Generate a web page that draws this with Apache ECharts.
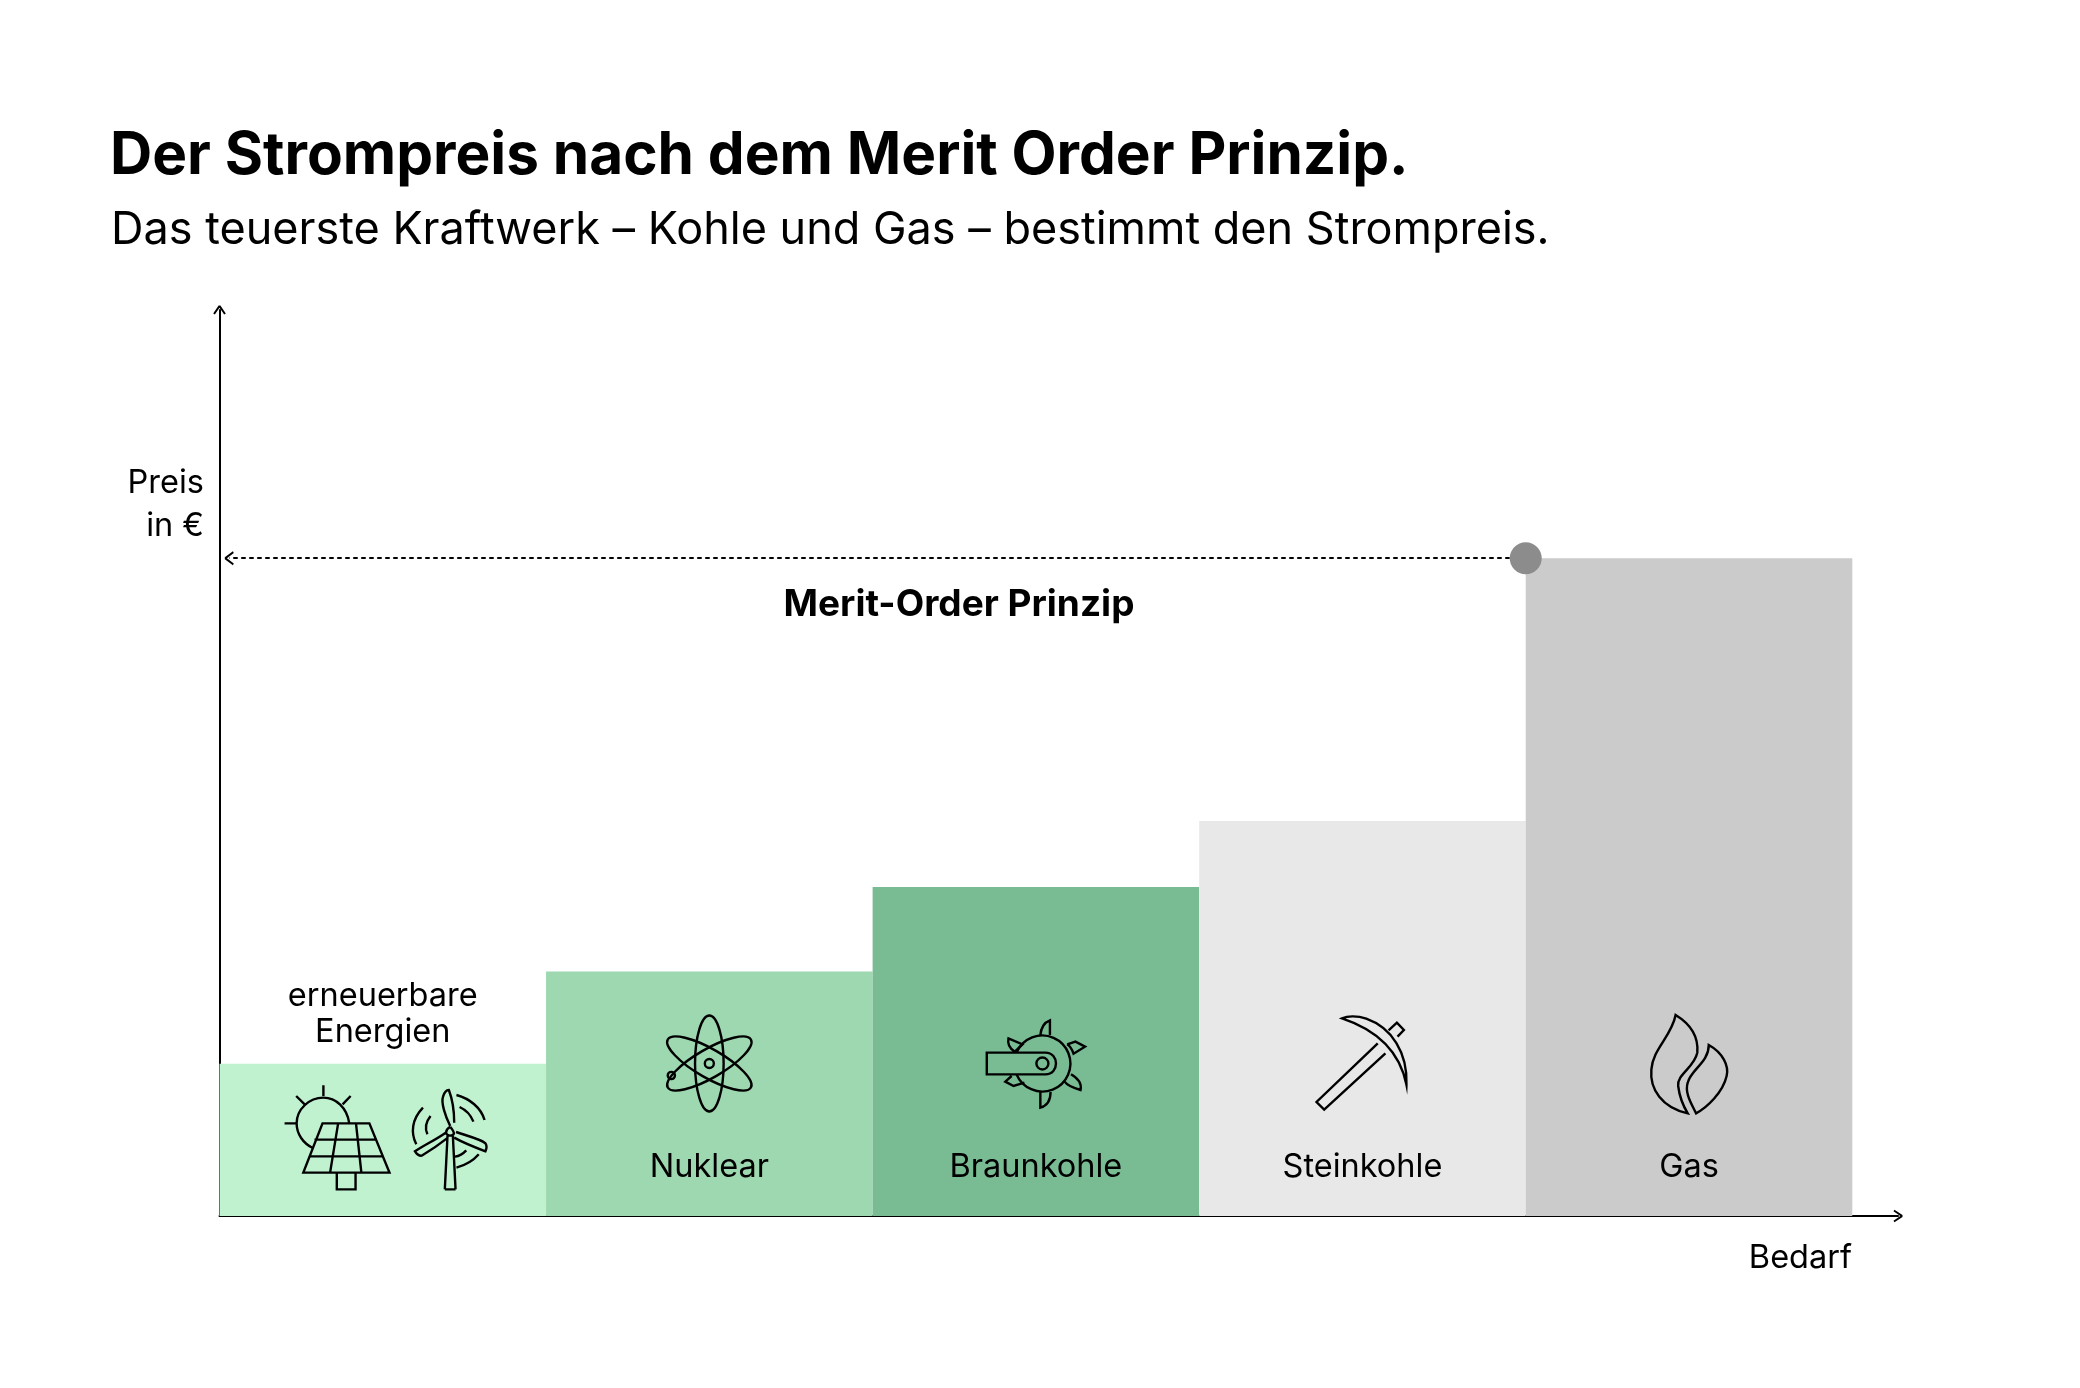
<!DOCTYPE html>
<html><head><meta charset="utf-8">
<style>html,body{margin:0;padding:0;background:#fff}#c{width:2080px;height:1388px}</style>
<script src="https://cdn.jsdelivr.net/npm/echarts@6/dist/echarts.min.js"></script>
</head><body><div id="c"></div>
<script>
const titleText = 'Der Strompreis nach dem Merit Order Prinzip.';
const subtitleText = 'Das teuerste Kraftwerk – Kohle und Gas – bestimmt den Strompreis.';
const categories = ['erneuerbare\nEnergien', 'Nuklear', 'Braunkohle', 'Steinkohle', 'Gas'];
const demandWidths = [1, 1, 1, 1, 1];
const prices = [16.8, 27, 36.3, 43.6, 72.6];
const barColors = ['#c1f2d0', '#9dd8b0', '#79bc94', '#e8e8e8', '#cbcbcb'];
const FONT = 'Inter';
const INK = '#000000';

// icon outlines, traced in zoomed-reference units
const rel = (d, sx, ox) => d.replace(/(-?[\d.]+)[ ,](-?[\d.]+)/g, (m, a, b) =>
  (((+a) - ox) / sx).toFixed(2) + ' ' + (((+b) - 770) / 3).toFixed(2));
const iconSolar = rel(
  'M335 492 C330 445 305 415 277 415 C245 415 217 450 217 492 C217 525 232 552 253 566 ' +
  'M277 378 L277 410 M190 492 L218 492 M216 410 L235 435 M338 410 L320 435 ' +
  'M275 492 L380 492 L425 640 L232 640 Z M257 541 L395 541 M245 591 L410 591 M310 492 L292 640 M350 492 L362 640 ' +
  'M307 640 L307 690 L349 690 L349 640', 2.24, 410);
const iconWind = rel(
  'M549 690 L555 530 M573 690 L567 530 M549 690 L573 690 ' +
  'M561 502 C572 520 572 528 561 529 C549 528 549 512 561 502 ' +
  'M561 500 C550 470 540 430 545 412 C548 398 553 392 558 392 C566 420 570 460 570 490 ' +
  'M574 518 C600 530 630 540 640 552 C644 560 642 570 640 576 C620 566 590 550 570 535 ' +
  'M551 520 C530 540 500 560 482 576 C485 584 492 590 497 589 C515 575 540 552 556 535 ' +
  'M575 407 C605 418 630 445 638 482 M582 443 C597 452 608 470 613 487 ' +
  'M500 445 C475 480 472 520 485 555 M517 470 C505 490 505 510 510 525 ' +
  'M625 585 C612 605 595 618 575 625 M597 573 C590 583 582 590 572 592', 2.24, 410);
const iconArm = rel(
  'M228 280 L136 280 L136 345 L228 345 C250 345 250 280 228 280 Z ' +
  'M220 228 C221 205 225 190 235 183 L235 228 M220 398 L220 445 C233 438 236 420 236 398 ' +
  'M170 237 C168 255 172 268 180 277 L192 255 Z M262 255 L275 247 L290 262 L272 283 C270 272 268 262 262 255 ' +
  'M268 345 C280 358 285 375 283 392 C270 385 262 378 258 367 M175 350 L165 367 L178 380 L195 370', 1.568, 213);
const iconPick = rel(
  'M748 252 L652 428 L664 451 L760 282 ' +
  'M692 177 C700 170 715 168 730 178 C770 205 795 280 793 376 C785 300 760 220 692 177 Z ' +
  'M765 213 L778 190 L789 212 L779 232', 1.568, 724);
const iconFlame = rel(
  'M1216 167 C1240 195 1252 235 1250 280 C1245 325 1218 345 1220 380 C1222 410 1228 440 1235 462 ' +
  'C1195 445 1175 390 1178 330 C1180 270 1210 230 1216 167 Z ' +
  'M1268 257 C1290 280 1300 320 1296 350 C1290 400 1265 445 1248 462 C1240 430 1230 400 1235 370 ' +
  'C1240 330 1268 310 1268 257 Z', 1.568, 1237);

const ICON_LINE = { fill: 'none', stroke: '#000', lineWidth: 2.4 };
const pathEl = (cx, base, d) => ({ type: 'path', x: cx, y: base, shape: { pathData: d }, style: ICON_LINE });
const ring = (x, y, r) => ({ type: 'circle', shape: { cx: x, cy: y, r }, style: ICON_LINE });
const iconFor = [
  (cx, b) => [pathEl(cx, b, iconSolar), pathEl(cx, b, iconWind)],
  (cx, b) => {
    const y = b - 152.5;
    return [0, Math.PI / 3, -Math.PI / 3].map(rot => ({
      type: 'ellipse', x: cx, y, rotation: rot, shape: { cx: 0, cy: 0, rx: 14.3, ry: 48 }, style: ICON_LINE
    })).concat([ring(cx, y, 4.5), ring(cx - 38, y + 12, 3.6)]);
  },
  (cx, b) => {
    const y = b - 152.5, x = cx + 6.5;
    return [
      { type: 'arc', shape: { cx: x, cy: y, r: 28, startAngle: Math.PI + 0.41, endAngle: Math.PI - 0.41, clockwise: true }, style: ICON_LINE },
      ring(x, y, 6), pathEl(cx, b, iconArm)
    ];
  },
  (cx, b) => [pathEl(cx, b, iconPick)],
  (cx, b) => [pathEl(cx, b, iconFlame)]
];

let start = 0;
const rows = categories.map((c, i) => {
  const r = [start, start + demandWidths[i], prices[i], i];
  start += demandWidths[i];
  return r;
});
const gasStart = rows[4][0], gasPrice = prices[4];
const xMax = 5.14;

const chevron = 'path://M0 9 L6 0 L8 0 L14 9 L12.2 10 L7 2.4 L1.8 10 Z';

const chart = echarts.init(document.getElementById('c'), null, { renderer: 'canvas' });
chart.setOption({
  animation: false,
  backgroundColor: '#ffffff',
  title: [
    { text: titleText, left: 105, top: 122, textStyle: { fontFamily: FONT, fontWeight: 700, fontSize: 58.5, color: '#000' } },
    { text: subtitleText, left: 106, top: 203, textStyle: { fontFamily: FONT, fontWeight: 400, fontSize: 45, color: '#000' } }
  ],
  grid: { left: 219.5, top: 310, right: 2080 - 1898, bottom: 172 },
  xAxis: {
    type: 'value', min: 0, max: xMax,
    axisLine: { show: true, onZero: false, symbol: ['none', chevron], symbolSize: [14, 9], lineStyle: { color: INK, width: 2 } },
    axisTick: { show: false }, axisLabel: { show: false }, splitLine: { show: false }
  },
  yAxis: {
    type: 'value', min: 0, max: 100,
    axisLine: { show: true, onZero: false, symbol: ['none', chevron], symbolSize: [14, 9], lineStyle: { color: INK, width: 2 } },
    axisTick: { show: false }, axisLabel: { show: false }, splitLine: { show: false }
  },
  series: [
    {
      type: 'custom', silent: true, clip: false, z: 1,
      encode: { x: [0, 1], y: 2 },
      data: rows,
      renderItem(params, api) {
        const i = api.value(3);
        const tl = api.coord([api.value(0), api.value(2)]);
        const br = api.coord([api.value(1), 0]);
        const cx = (tl[0] + br[0]) / 2;
        const first = i === 0;
        return {
          type: 'group',
          children: [
            { type: 'rect', shape: { x: tl[0], y: tl[1], width: br[0] - tl[0], height: br[1] - tl[1] }, style: { fill: barColors[i] } },
            {
              type: 'text', x: cx, y: first ? tl[1] - 50 : br[1] - 49,
              style: { text: categories[i], fontFamily: FONT, fontSize: 32.5, lineHeight: 36, fill: '#000', align: 'center', verticalAlign: 'middle' }
            }
          ].concat(iconFor[i](cx, br[1]))
        };
      }
    },
    {
      type: 'line', z: 3, silent: true, symbol: 'none', data: [],
      markLine: {
        silent: true, animation: false,
        symbol: ['none', chevron], symbolSize: [14, 9],
        label: { show: false },
        lineStyle: { color: INK, width: 2, type: [4.5, 3.5], opacity: 1 },
        emphasis: { disabled: true },
        data: [[{ coord: [gasStart, gasPrice] }, { coord: [0.03, gasPrice] }]]
      }
    },
    {
      type: 'scatter', z: 5, silent: true, symbol: 'circle', symbolSize: 32,
      itemStyle: { color: '#8c8c8c', opacity: 1 },
      data: [[gasStart, gasPrice]]
    }
  ],
  graphic: [
    { type: 'text', x: 204, y: 483, style: { text: 'Preis', fontFamily: FONT, fontSize: 32.5, fill: '#000', align: 'right', verticalAlign: 'middle' } },
    { type: 'text', x: 204, y: 526, style: { text: 'in €', fontFamily: FONT, fontSize: 32.5, fill: '#000', align: 'right', verticalAlign: 'middle' } },
    { type: 'text', x: 1852, y: 1258, style: { text: 'Bedarf', fontFamily: FONT, fontSize: 32.5, fill: '#000', align: 'right', verticalAlign: 'middle' } },
    { type: 'text', x: 959, y: 605, style: { text: 'Merit-Order Prinzip', fontFamily: FONT, fontWeight: 700, fontSize: 37, fill: '#000', align: 'center', verticalAlign: 'middle' } }
  ]
});
</script></body></html>
